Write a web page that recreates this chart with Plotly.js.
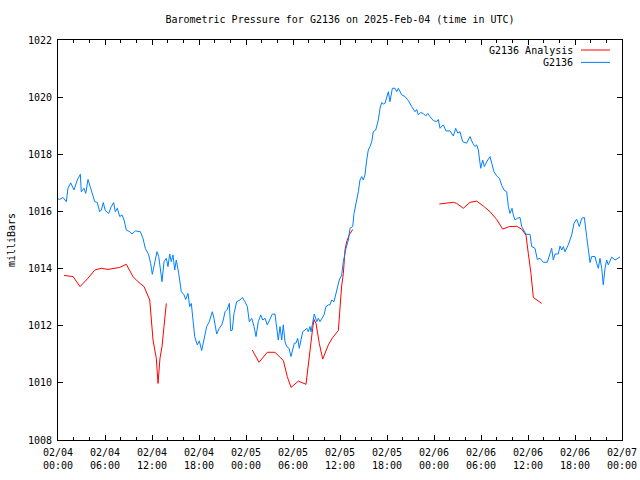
<!DOCTYPE html>
<html>
<head>
<meta charset="utf-8">
<script src="https://cdn.plot.ly/plotly-3.0.1.min.js"></script>
<style>html,body{margin:0;padding:0;background:#fff}#chart{width:640px;height:480px}</style>
</head>
<body>
<div id="chart"></div>
<script>
// Hours since 2025-02-04 00:00 UTC and pressure (mb)
const obsHours = [0,0.22,0.64,1.06,1.28,1.62,2.04,2.46,2.85,2.97,3.32,3.54,3.83,4.05,4.25,4.69,5.02,5.32,5.53,5.78,6.04,6.47,6.80,7.11,7.31,7.57,7.88,8.17,8.43,8.72,9.15,9.45,9.87,10.51,10.85,11.14,11.58,11.83,12.04,12.34,12.64,12.86,13.11,13.28,13.53,13.83,14.04,14.26,14.46,14.68,14.90,15.10,15.41,15.74,16.09,16.30,16.60,16.81,17.02,17.23,17.45,17.78,18.04,18.34,18.64,18.98,19.31,19.70,19.91,20.26,20.59,20.90,21.10,21.32,21.61,21.87,22.05,22.25,22.47,22.81,23.23,23.53,23.87,24.17,24.42,24.73,25.02,25.28,25.57,25.88,26.13,26.43,26.72,27.06,27.36,27.70,27.92,28.12,28.34,28.56,28.76,28.98,29.20,29.49,29.74,29.96,30.17,30.38,30.60,30.80,30.98,31.24,31.53,31.75,31.95,32.17,32.30,32.51,32.72,33.03,33.23,33.45,33.66,33.96,34.21,34.51,34.72,34.94,35.23,35.49,35.66,35.91,36.22,36.42,36.77,37.06,37.28,37.62,37.79,38.04,38.34,38.55,38.77,38.97,39.19,39.41,39.61,39.83,40.05,40.25,40.56,40.89,41.11,41.32,41.53,41.74,41.96,42.17,42.38,42.68,43.02,43.24,43.44,43.88,44.30,44.72,45.15,45.57,45.79,46.00,46.30,46.63,46.94,47.20,47.49,47.91,48.34,48.55,48.77,49.19,49.53,50.04,50.47,50.77,51.03,51.32,51.66,52.17,52.60,52.94,53.23,53.45,53.66,53.96,54.22,54.42,54.73,55.15,55.37,55.66,56.00,56.34,56.64,56.94,57.28,57.49,57.70,57.96,58.12,58.34,58.63,58.98,59.20,59.49,59.74,60.26,60.47,60.89,61.19,61.53,61.95,62.46,62.81,63.02,63.23,63.45,63.87,64.09,64.30,64.51,64.72,65.14,65.58,65.87,66.21,66.55,66.86,67.19,67.49,67.70,67.92,68.13,68.55,68.77,68.98,69.19,69.41,69.61,69.83,70.04,70.25,70.68,71.11,71.75];
const obsPressure = [1016.44,1016.42,1016.49,1016.34,1016.82,1017.00,1016.75,1017.10,1017.30,1016.69,1016.81,1016.63,1017.12,1016.92,1016.69,1016.34,1016.31,1015.99,1016.05,1016.31,1016.03,1015.93,1016.17,1016.31,1015.99,1016.11,1015.82,1015.88,1015.70,1015.35,1015.29,1015.21,1015.32,1015.29,1015.06,1014.71,1014.48,1014.18,1013.80,1014.18,1014.59,1014.42,1013.78,1013.54,1014.24,1014.36,1014.07,1014.51,1014.24,1014.48,1013.95,1014.30,1013.83,1013.19,1013.08,1012.92,1013.13,1012.67,1012.78,1012.20,1011.62,1011.33,1011.47,1011.13,1011.50,1011.97,1012.14,1012.49,1012.26,1011.71,1011.91,1012.03,1012.20,1012.49,1012.57,1012.78,1011.82,1011.85,1012.43,1012.84,1012.90,1012.99,1012.84,1012.67,1012.14,1012.26,1011.97,1011.62,1012.14,1012.38,1012.20,1012.26,1012.03,1012.26,1012.41,1012.41,1011.85,1011.50,1011.97,1011.50,1012.03,1011.44,1011.27,1011.21,1010.92,1011.21,1011.39,1011.39,1011.56,1011.21,1011.50,1011.79,1011.85,1011.91,1011.79,1011.97,1011.79,1012.08,1012.41,1012.14,1012.26,1012.14,1012.26,1012.38,1012.67,1012.73,1012.73,1012.90,1012.84,1013.13,1013.43,1013.60,1013.78,1014.24,1014.71,1015.00,1015.41,1015.47,1015.93,1016.23,1016.69,1017.10,1017.22,1017.10,1017.28,1017.80,1018.15,1018.27,1018.44,1018.79,1018.85,1019.20,1019.61,1019.81,1019.76,1019.78,1020.02,1020.19,1019.84,1020.31,1020.31,1020.19,1020.31,1020.08,1020.02,1019.88,1019.67,1019.49,1019.57,1019.38,1019.46,1019.43,1019.34,1019.43,1019.32,1019.18,1019.14,1019.22,1018.91,1019.03,1018.82,1018.82,1018.64,1018.91,1018.74,1018.79,1018.44,1018.39,1018.62,1018.39,1018.27,1018.33,1018.15,1017.51,1017.80,1017.57,1017.74,1017.92,1017.69,1017.39,1017.24,1017.16,1016.92,1016.75,1016.69,1016.17,1015.93,1016.11,1015.88,1015.70,1015.76,1015.79,1015.47,1015.35,1015.20,1015.20,1014.77,1014.71,1014.32,1014.36,1014.22,1014.22,1014.48,1014.71,1014.30,1014.51,1014.51,1014.79,1014.65,1014.77,1014.59,1014.83,1015.18,1015.58,1015.73,1015.47,1015.76,1015.79,1015.12,1014.71,1014.21,1014.42,1014.42,1014.18,1014.01,1014.36,1014.01,1013.43,1014.01,1014.30,1014.13,1014.40,1014.30,1014.41];

// Analysis series (null = gap between runs)
const anaHours = [0.77,1.92,2.81,3.83,4.69,5.53,6.38,7.88,8.72,9.57,10.21,10.98,11.71,12.13,12.55,12.77,13.02,13.28,13.53,13.83,
  null,
  24.8,25.66,26.72,27.7,28.77,29.27,29.75,30.68,31.66,32.04,32.51,32.68,32.94,33.36,33.79,34.51,35.07,35.79,36.0,36.21,36.43,36.64,36.85,37.19,37.62,
  null,
  48.68,49.4,50.47,50.9,51.74,52.6,53.45,54.3,55.15,56.0,56.77,57.61,58.56,59.2,59.74,60.04,60.38,60.68,61.1,61.75];
const anaPressure = [1013.76,1013.72,1013.37,1013.66,1013.95,1014.01,1013.97,1014.04,1014.15,1013.72,1013.54,1013.37,1012.9,1011.5,1010.86,1009.98,1010.86,1011.27,1011.97,1012.78,
  null,
  1011.15,1010.72,1011.07,1011.07,1010.78,1010.22,1009.84,1010.06,1009.95,1010.92,1011.91,1012.22,1012.08,1011.38,1010.83,1011.33,1011.59,1011.83,1012.78,1013.39,1013.83,1014.65,1014.94,1015.18,1015.37,
  null,
  1016.26,1016.28,1016.32,1016.28,1016.11,1016.32,1016.36,1016.19,1015.99,1015.72,1015.38,1015.47,1015.48,1015.38,1015.17,1014.53,1013.83,1012.99,1012.9,1012.78];

const seriesNames = ['G2136 Analysis', 'G2136'];
const startMs = Date.UTC(2025, 1, 4, 0, 0, 0);

function toDate(h) {
  if (h === null) return null;
  const d = new Date(startMs + h * 3600000);
  return d.toISOString().replace('T', ' ').replace('Z', '');
}

const FONT = 'DejaVu Sans Mono, Liberation Mono, monospace';
const RED = '#ff0000';
const BLUE = '#0080ff';

const traces = [
  {x: anaHours.map(toDate), y: anaPressure, type: 'scatter', mode: 'lines',
   name: seriesNames[0], line: {color: RED, width: 1}, connectgaps: false},
  {x: obsHours.map(toDate), y: obsPressure, type: 'scatter', mode: 'lines',
   name: seriesNames[1], line: {color: BLUE, width: 1}}
];

// legend geometry (paper coords)
const legX = 0.9167, legL0 = 0.9273, legL1 = 0.9787;
const legY = [0.975, 0.944];

const layout = {
  width: 640, height: 480,
  margin: {l: 58, r: 18, t: 40, b: 40, pad: 0},
  paper_bgcolor: '#fff', plot_bgcolor: '#fff',
  font: {family: FONT, size: 10, color: '#000'},
  showlegend: false,
  title: {text: 'Barometric Pressure for G2136 on 2025-Feb-04 (time in UTC)',
          x: 0.5, xref: 'paper', y: 1 - 19/480, yref: 'container', yanchor: 'middle',
          font: {family: FONT, size: 10, color: '#000'}},
  xaxis: {
    type: 'date',
    range: [toDate(0), toDate(72)],
    dtick: 6 * 3600000,
    tick0: toDate(0),
    tickformat: '%m/%d<br>%H:%M',
    ticks: 'inside', ticklen: 5, tickwidth: 1, tickcolor: '#000',
    ticklabelstandoff: 3,
    minor: {dtick: 2 * 3600000, ticks: 'inside', ticklen: 3, tickwidth: 1, tickcolor: '#000', showgrid: false},
    showline: true, linecolor: '#000', linewidth: 1, mirror: 'ticks',
    showgrid: false, zeroline: false,
    tickfont: {family: FONT, size: 10, color: '#000'}
  },
  yaxis: {
    range: [1008, 1022],
    dtick: 2,
    ticks: 'inside', ticklen: 5, tickwidth: 1, tickcolor: '#000',
    ticklabelstandoff: 3,
    showline: true, linecolor: '#000', linewidth: 1, mirror: 'ticks',
    showgrid: false, zeroline: false,
    tickfont: {family: FONT, size: 10, color: '#000'},
    title: {text: 'milliBars', standoff: 10, font: {family: FONT, size: 10, color: '#000'}}
  },
  annotations: [
    {text: seriesNames[0], xref: 'paper', yref: 'paper', x: legX, y: legY[0], xanchor: 'right', yanchor: 'middle', showarrow: false, font: {family: FONT, size: 10, color: '#000'}},
    {text: seriesNames[1], xref: 'paper', yref: 'paper', x: legX, y: legY[1], xanchor: 'right', yanchor: 'middle', showarrow: false, font: {family: FONT, size: 10, color: '#000'}}
  ],
  shapes: [
    {type: 'line', xref: 'paper', yref: 'paper', x0: legL0, x1: legL1, y0: legY[0], y1: legY[0], line: {color: RED, width: 1}},
    {type: 'line', xref: 'paper', yref: 'paper', x0: legL0, x1: legL1, y0: legY[1], y1: legY[1], line: {color: BLUE, width: 1}}
  ]
};

Plotly.newPlot('chart', traces, layout, {staticPlot: true, displayModeBar: false});
</script>
</body>
</html>
